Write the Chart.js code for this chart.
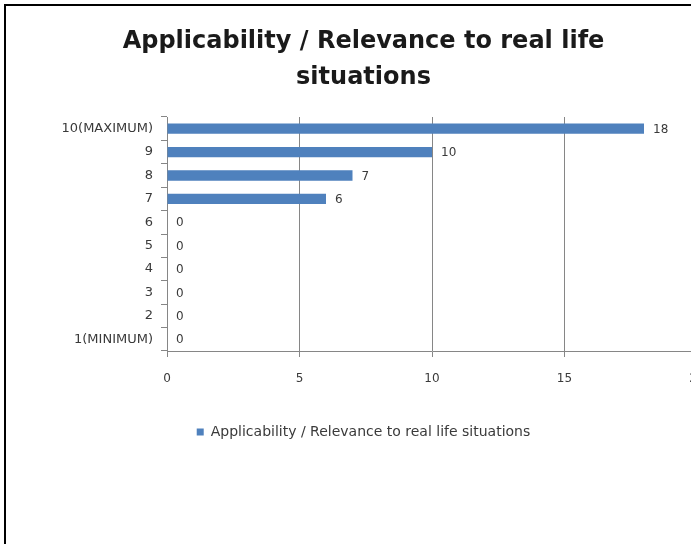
<!DOCTYPE html>
<html>
<head>
<meta charset="utf-8">
<script src="https://cdn.jsdelivr.net/npm/chart.js@4"></script>
<style>
  html, body { margin: 0; padding: 0; background: #fff; overflow: hidden; }
  body { width: 691px; height: 544px; position: relative; }
  .cell-top { position: absolute; left: 4px; top: 4px; width: 700px; height: 2px; background: #000; }
  .cell-left { position: absolute; left: 4px; top: 4px; width: 2px; height: 560px; background: #000; }
  #wrap { position: absolute; left: 0; top: 0; width: 734px; height: 460px; }
</style>
</head>
<body>
<div id="wrap"><canvas id="chart"></canvas></div>
<div class="cell-top"></div>
<div class="cell-left"></div>
<script>
// Data
const categories = ["10(MAXIMUM)", "9", "8", "7", "6", "5", "4", "3", "2", "1(MINIMUM)"];
const values = [18, 10, 7, 6, 0, 0, 0, 0, 0, 0];
const seriesName = "Applicability / Relevance to real life situations";
const titleLines = ["Applicability / Relevance to real life", "situations"];
const xTicks = [0, 5, 10, 15, 20];

const gridGray = "#868686";
const textGray = "#3a3a3a";

// value labels at the end of each bar
const barLabels = {
  id: "barLabels",
  afterDatasetsDraw(chart) {
    const ctx = chart.ctx;
    const meta = chart.getDatasetMeta(0);
    ctx.save();
    ctx.font = "12px 'DejaVu Sans'";
    ctx.fillStyle = textGray;
    ctx.textAlign = "left";
    ctx.textBaseline = "middle";
    meta.data.forEach((bar, i) => {
      ctx.fillText(String(values[i]), bar.x + 9, bar.y + 1);
    });
    ctx.restore();
  }
};

new Chart(document.getElementById("chart"), {
  type: "bar",
  data: {
    labels: categories,
    datasets: [{
      label: seriesName,
      data: values,
      backgroundColor: "#4F81BD",
      borderWidth: 0,
      barPercentage: 0.44,
      categoryPercentage: 1
    }]
  },
  options: {
    indexAxis: "y",
    responsive: true,
    maintainAspectRatio: false,
    animation: false,
    layout: { padding: { left: 30, right: 37, top: 0, bottom: 11 } },
    plugins: {
      tooltip: { enabled: false },
      title: {
        display: true,
        text: titleLines,
        color: "#1a1a1a",
        font: { family: "'DejaVu Sans'", size: 24, weight: "bold", lineHeight: 1.5 },
        padding: { top: 24, bottom: 21 }
      },
      legend: {
        position: "bottom",
        labels: {
          boxWidth: 7,
          boxHeight: 7,
          padding: 10,
          color: textGray,
          font: { family: "'DejaVu Sans'", size: 14 }
        }
      }
    },
    scales: {
      x: {
        min: 0,
        max: 20,
        afterBuildTicks(scale) {
          scale.ticks = xTicks.map(v => ({ value: v }));
        },
        afterFit(scale) { scale.height = 64; },
        grid: { color: gridGray, drawTicks: true, tickLength: 6 },
        border: { display: true, color: gridGray },
        ticks: { color: textGray, padding: 15, font: { family: "'DejaVu Sans'", size: 12 } }
      },
      y: {
        afterFit(scale) { scale.width = 137; },
        grid: { display: true, drawOnChartArea: false, drawTicks: true, tickLength: 6, color: gridGray },
        border: { display: true, color: gridGray },
        ticks: { color: textGray, padding: 8, font: { family: "'DejaVu Sans'", size: 13 } }
      }
    }
  },
  plugins: [barLabels]
});
</script>
</body>
</html>
